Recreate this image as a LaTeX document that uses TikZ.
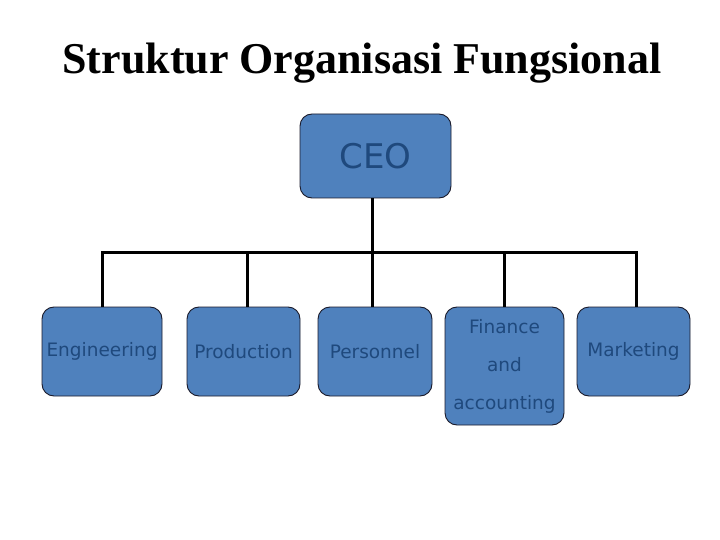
\documentclass[tikz,border=0pt]{standalone}
\usepackage{fontspec}
\setmainfont{Liberation Serif}
\newfontfamily\boxfont{DejaVu Sans}
\definecolor{boxfill}{HTML}{4F81BD}
\definecolor{boxtext}{HTML}{1F497D}
\definecolor{boxline}{HTML}{1A1A2A}
\begin{document}
\begin{tikzpicture}[x=1pt,y=-1pt,
  orgbox/.style={draw=boxline, line width=0.9pt, fill=boxfill, rounded corners=12pt,
    inner sep=0pt, text=boxtext, font=\boxfont\fontsize{18.5}{38}\selectfont, align=center},
  link/.style={line width=3pt, black}]
\useasboundingbox (0,0) rectangle (720,540);
\node[font=\bfseries\fontsize{44}{50}\selectfont] (title) at (362,63) {Struktur Organisasi Fungsional};
\node[orgbox, minimum width=151pt, minimum height=84pt, font=\boxfont\fontsize{34}{38}\selectfont] (ceo) at (375.5,156) {CEO};
\node[orgbox, minimum width=120pt, minimum height=89pt] (eng) at (102,351.5) {Engineering};
\node[orgbox, minimum width=113pt, minimum height=89pt] (prod) at (243.5,351.5) {Production};
\node[orgbox, minimum width=114pt, minimum height=89pt] (pers) at (375,351.5) {Personnel};
\node[orgbox, minimum width=119pt, minimum height=118pt] (fin) at (504.5,366) {\raisebox{-2pt}{Finance}\\\raisebox{-2pt}{and}\\\raisebox{-2pt}{accounting}};
\node[orgbox, minimum width=113pt, minimum height=89pt] (mkt) at (633.5,351.5) {Marketing};
\coordinate (bus) at (372,252);
\draw[link] (ceo.south -| bus) -- (bus);
\draw[link] (eng.north) |- (bus);
\draw[link] (bus) -| ([xshift=2.5pt]mkt.north);
\draw[link] ([xshift=3.5pt]prod.north) -- ([xshift=3.5pt]prod.north |- bus);
\draw[link] (pers.north -| bus) -- (bus);
\draw[link] (fin.north) -- (fin.north |- bus);
\end{tikzpicture}
\end{document}
